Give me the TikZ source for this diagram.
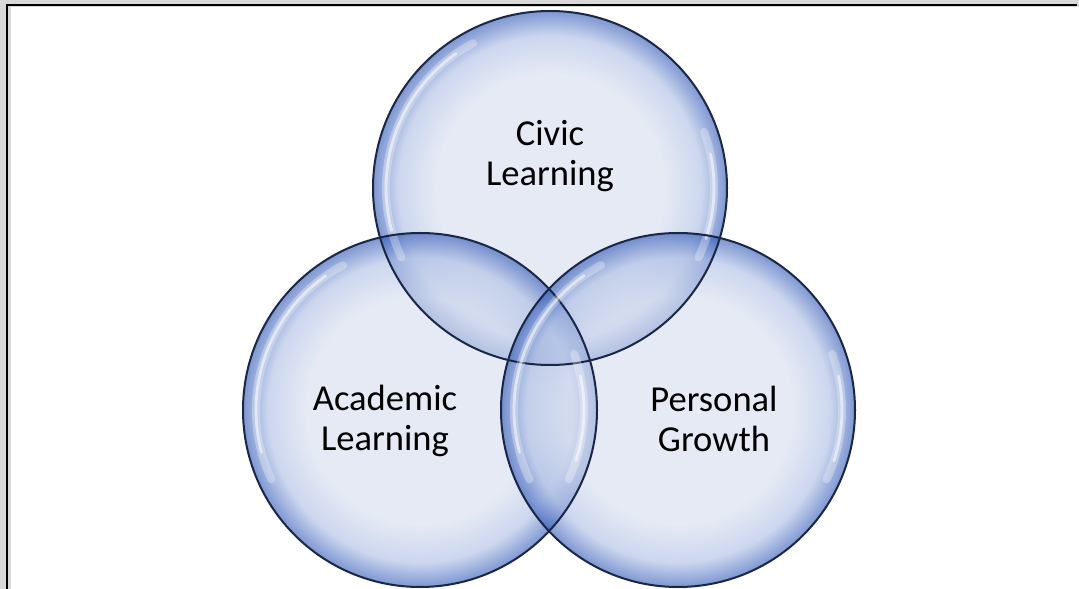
\documentclass[tikz,border=0pt]{standalone}
\usepackage{fontspec}
\setmainfont{Carlito}
\definecolor{framegray}{RGB}{217,217,217}
\definecolor{rimblue}{RGB}{26,38,70}
\definecolor{bubblein}{RGB}{214,221,238}
\definecolor{bubblemid}{RGB}{170,188,228}
\definecolor{bubbleout}{RGB}{40,82,180}
\pgfdeclareradialshading{bubble}{\pgfpointorigin}{color(0bp)=(bubblein); color(16bp)=(bubblein); color(21.5bp)=(bubblemid); color(25bp)=(bubbleout); color(50bp)=(bubbleout)}
\begin{document}
\begin{tikzpicture}[x=0.025cm,y=0.025cm,
    bubble/.style={circle,inner sep=0pt,minimum size=8.85cm,shading=bubble,fill opacity=0.6},
    rim/.style={draw=rimblue,line width=0.05cm},
    glint/.style={draw=white,line width=0.2cm,line cap=round,opacity=0.3},
    glintcore/.style={draw=white,line width=0.07cm,line cap=round,opacity=0.55},
    areatext/.style={align=center,font=\fontsize{26}{28.5}\selectfont,text=black}]
    \useasboundingbox (0,0) rectangle (1079,-589);
    % frame
    \fill[framegray] (0,0) rectangle (1079,-589);
    \fill[white] (11,-7) rectangle (1079,-589);
    \draw[line width=0.05cm] (7,-589) -- (7,-5.5) -- (1077,-5.5);
    % circles
    \node[bubble] (civic) at (550,-188) {};
    \node[bubble] (academic) at (420,-410) {};
    \node[bubble] (personal) at (678,-410) {};
    \foreach \c in {civic,academic,personal} {
        \draw[glint] (\c.center) ++(118:164) arc[start angle=118,end angle=205,radius=164];
        \draw[glintcore] (\c.center) ++(125:164) arc[start angle=125,end angle=195,radius=164];
        \draw[glint] (\c.center) ++(-25:164) arc[start angle=-25,end angle=20,radius=164];
        \draw[glintcore] (\c.center) ++(-18:164) arc[start angle=-18,end angle=12,radius=164];
        \draw[rim] (\c.center) circle[radius=177];
    }
    % labels
    \node[areatext] (civictext) at (550,-156) {Civic\\Learning};
    \node[areatext] (academictext) at (385,-421) {Academic\\Learning};
    \node[areatext] (personaltext) at (714,-419) {Personal\\Growth};
\end{tikzpicture}
\end{document}
